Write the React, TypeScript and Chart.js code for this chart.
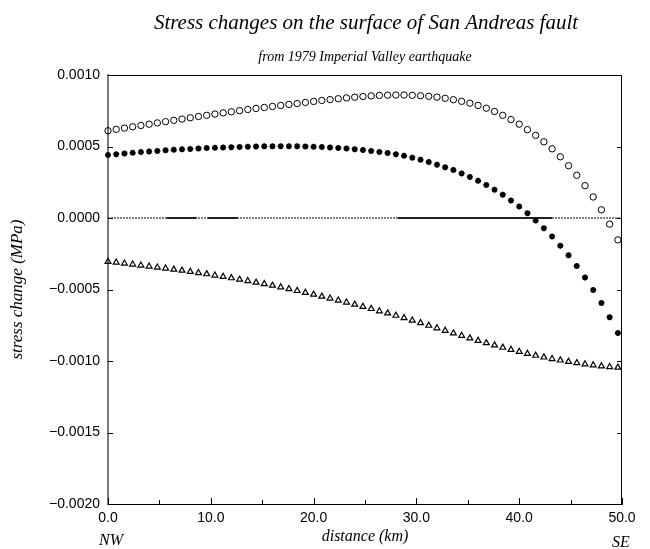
import { useEffect, useRef } from "react";
import { Chart, registerables } from "chart.js";

Chart.register(...registerables);

const titleText = "Stress changes on the surface of San Andreas fault";
const subtitleText = "from 1979 Imperial Valley earthquake";
const xAxisTitle = "distance (km)";
const yAxisTitle = "stress change (MPa)";
const leftEndLabel = "NW";
const rightEndLabel = "SE";

const distanceKm = [
  0, 0.8, 1.6, 2.4, 3.2, 4.0, 4.8, 5.6, 6.4, 7.2, 8.0, 8.8, 9.6, 10.4, 11.2, 12.0,
  12.8, 13.6, 14.4, 15.2, 16.0, 16.8, 17.6, 18.4, 19.2, 20.0, 20.8, 21.6, 22.4, 23.2,
  24.0, 24.8, 25.6, 26.4, 27.2, 28.0, 28.8, 29.6, 30.4, 31.2, 32.0, 32.8, 33.6, 34.4,
  35.2, 36.0, 36.8, 37.6, 38.4, 39.2, 40.0, 40.8, 41.6, 42.4, 43.2, 44.0, 44.8, 45.6,
  46.4, 47.2, 48.0, 48.8, 49.6,
];

const circleValues = [
  0.00061, 0.00062, 0.000629, 0.000638, 0.000647, 0.000656, 0.000665, 0.000674,
  0.000683, 0.000692, 0.000701, 0.00071, 0.000718, 0.000727, 0.000735, 0.000743,
  0.000751, 0.000759, 0.000766, 0.000773, 0.00078, 0.000787, 0.000794, 0.0008,
  0.000808, 0.000815, 0.000822, 0.000828, 0.000834, 0.00084, 0.000845, 0.00085,
  0.000854, 0.000857, 0.000859, 0.00086, 0.00086, 0.000858, 0.000855, 0.000851,
  0.000845, 0.000837, 0.000827, 0.000816, 0.000803, 0.000787, 0.000768, 0.000745,
  0.000718, 0.000688, 0.000656, 0.000618, 0.000578, 0.000533, 0.000484, 0.000428,
  0.000366, 0.000299, 0.000226, 0.000147, 0.000057, -0.000043, -0.000153,
];

const starValues = [
  0.00044, 0.000446, 0.000451, 0.000456, 0.000461, 0.000465, 0.000469, 0.000473,
  0.000477, 0.00048, 0.000483, 0.000486, 0.000489, 0.000491, 0.000493, 0.000495,
  0.000497, 0.000499, 0.0005, 0.000501, 0.000501, 0.000502, 0.000501, 0.000501,
  0.0005, 0.000498, 0.000496, 0.000493, 0.00049, 0.000486, 0.000481, 0.000475,
  0.000469, 0.000462, 0.000455, 0.000446, 0.000435, 0.000422, 0.000407, 0.000391,
  0.000373, 0.000355, 0.000335, 0.000312, 0.000287, 0.00026, 0.000231, 0.000198,
  0.000163, 0.000123, 0.00008, 0.000034, -0.000018, -0.000071, -0.000129, -0.000194,
  -0.000261, -0.000335, -0.000416, -0.000503, -0.000594, -0.000694, -0.000805,
];

const triangleValues = [
  -0.000305, -0.000311, -0.000317, -0.000324, -0.000331, -0.000338, -0.000345,
  -0.000352, -0.00036, -0.000367, -0.000375, -0.000384, -0.000392, -0.000401,
  -0.00041, -0.00042, -0.00043, -0.00044, -0.000451, -0.000461, -0.000472,
  -0.000484, -0.000496, -0.000509, -0.000522, -0.000535, -0.000549, -0.000562,
  -0.000576, -0.00059, -0.000605, -0.00062, -0.000635, -0.000651, -0.000666,
  -0.000682, -0.000699, -0.000716, -0.000734, -0.000752, -0.00077, -0.000788,
  -0.000806, -0.000823, -0.000841, -0.000858, -0.000874, -0.00089, -0.000906,
  -0.000921, -0.000935, -0.000949, -0.000962, -0.000974, -0.000985, -0.000995,
  -0.001005, -0.001014, -0.001022, -0.001029, -0.001036, -0.001041, -0.001045,
];

const faultSegmentStarts = [5.7, 9.7, 28.2];
const faultSegmentEnds = [8.6, 12.6, 43.2];

const xMajorTicks = [0, 10, 20, 30, 40, 50];
const xMinorTicks = [5, 15, 25, 35, 45];
const yMajorTicks = [0.001, 0.0005, 0, -0.0005, -0.001, -0.0015, -0.002];

const SERIF = '"Liberation Serif", "Times New Roman", serif';
const SANS = '"Liberation Sans", Arial, sans-serif';

const decorPlugin = {
  id: "decor",
  beforeDatasetsDraw(chart: any) {
    const { ctx, chartArea: a, scales } = chart;
    const xs = scales.x;
    const ys = scales.y;
    ctx.save();
    ctx.strokeStyle = "#000";
    ctx.lineWidth = 1;
    ctx.beginPath();
    ctx.moveTo(a.left, a.top + 0.5);
    ctx.lineTo(a.right, a.top + 0.5);
    ctx.moveTo(a.right - 0.5, a.top);
    ctx.lineTo(a.right - 0.5, a.bottom);
    yMajorTicks.forEach((v) => {
      const py = Math.round(ys.getPixelForValue(v)) + 0.5;
      ctx.moveTo(a.left, py);
      ctx.lineTo(a.left + 5, py);
      ctx.moveTo(a.right, py);
      ctx.lineTo(a.right - 5, py);
    });
    xMajorTicks.forEach((v) => {
      const px = Math.round(xs.getPixelForValue(v)) + 0.5;
      ctx.moveTo(px, a.bottom);
      ctx.lineTo(px, a.bottom - 6);
    });
    xMinorTicks.forEach((v) => {
      const px = Math.round(xs.getPixelForValue(v)) + 0.5;
      ctx.moveTo(px, a.bottom);
      ctx.lineTo(px, a.bottom - 4);
    });
    ctx.stroke();
    ctx.restore();
  },
  afterDraw(chart: any) {
    const { ctx, chartArea: a } = chart;
    const cx = (a.left + a.right) / 2;
    ctx.save();
    ctx.fillStyle = "#000";
    ctx.textAlign = "center";
    ctx.textBaseline = "middle";
    ctx.font = `italic 21px ${SERIF}`;
    ctx.fillText(titleText, cx + 1, 23);
    ctx.font = `italic 14px ${SERIF}`;
    ctx.fillText(subtitleText, cx, 57);
    ctx.font = `italic 16px ${SERIF}`;
    ctx.fillText(xAxisTitle, cx, 537);
    ctx.fillText(leftEndLabel, a.left + 3, 541);
    ctx.fillText(rightEndLabel, a.right - 1, 543);
    ctx.translate(18, (a.top + a.bottom) / 2);
    ctx.rotate(-Math.PI / 2);
    ctx.font = `italic 17px ${SERIF}`;
    ctx.fillText(yAxisTitle, 0, 0);
    ctx.restore();
  },
};

function formatY(v: number) {
  const n = Number(v);
  const s = Math.abs(n).toFixed(4);
  return (n < -1e-9 ? "\u2212" : "") + s;
}

export default function App() {
  const canvasRef = useRef<HTMLCanvasElement | null>(null);

  useEffect(() => {
    if (!canvasRef.current) return;
    const pts = (vals: number[]) => distanceKm.map((d, i) => ({ x: d, y: vals[i] }));

    const segmentSets = faultSegmentStarts.map((s, i) => ({
      type: "line" as const,
      data: [
        { x: s, y: 0 },
        { x: faultSegmentEnds[i], y: 0 },
      ],
      showLine: true,
      borderColor: "#222",
      borderWidth: 2,
      pointRadius: 0,
    }));

    const chart = new Chart(canvasRef.current, {
      type: "scatter",
      data: {
        datasets: [
          {
            data: pts(circleValues),
            pointStyle: "circle",
            pointRadius: 3.2,
            borderColor: "#000",
            backgroundColor: "rgba(255,255,255,0)",
            borderWidth: 1,
            clip: false,
          },
          {
            data: pts(starValues),
            pointStyle: "star",
            pointRadius: 3,
            borderColor: "#000",
            backgroundColor: "#000",
            borderWidth: 1.8,
            clip: false,
          },
          {
            data: pts(triangleValues),
            pointStyle: "triangle",
            pointRadius: 3.4,
            borderColor: "#000",
            backgroundColor: "rgba(255,255,255,0)",
            borderWidth: 1.2,
            clip: false,
          },
          ...segmentSets,
          {
            type: "line" as const,
            data: [
              { x: 0, y: 0 },
              { x: 50, y: 0 },
            ],
            showLine: true,
            borderColor: "#000",
            borderWidth: 1,
            borderDash: [2, 1],
            pointRadius: 0,
          },
        ] as any,
      },
      options: {
        responsive: false,
        maintainAspectRatio: false,
        animation: false,
        layout: { padding: { left: 0, right: 28, top: 75, bottom: 0 } },
        plugins: {
          legend: { display: false },
          tooltip: { enabled: false },
          title: { display: false },
        },
        scales: {
          x: {
            type: "linear",
            min: 0,
            max: 50,
            afterFit: (s: any) => {
              s.height = 45;
            },
            ticks: {
              stepSize: 10,
              padding: 6,
              color: "#000",
              maxRotation: 0,
              autoSkip: false,
              font: { family: SANS, size: 14 },
              callback: (v: any) => Number(v).toFixed(1),
            },
            grid: { drawOnChartArea: false, drawTicks: false },
            border: { color: "#000", width: 1 },
          },
          y: {
            type: "linear",
            min: -0.002,
            max: 0.001,
            afterFit: (s: any) => {
              s.width = 108;
            },
            ticks: {
              stepSize: 0.0005,
              padding: 8,
              color: "#000",
              font: { family: SANS, size: 14 },
              callback: (v: any) => formatY(v),
            },
            grid: { drawOnChartArea: false, drawTicks: false },
            border: { color: "#7a7a7a", width: 2 },
          },
        },
      },
      plugins: [decorPlugin],
    });
    return () => chart.destroy();
  }, []);

  return (
    <div style={{ position: "absolute", left: 0, top: 0, width: 650, height: 549, background: "#fff" }}>
      <canvas ref={canvasRef} width={650} height={549} style={{ display: "block" }} />
    </div>
  );
}
